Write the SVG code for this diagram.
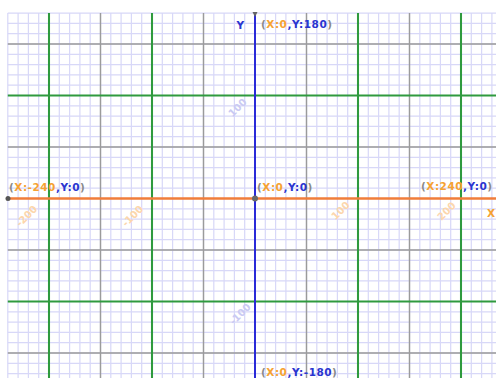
<svg xmlns="http://www.w3.org/2000/svg" width="496" height="378" viewBox="0 0 496 378">
<style>
.minor{stroke:#d8d8f8;stroke-width:1.2;fill:none}
.grey{stroke:#9b9b9b;stroke-width:1.4;fill:none}
.green{stroke:#2f9a3e;stroke-width:2;fill:none}
.lbl{font-family:"DejaVu Sans",Verdana,sans-serif;font-weight:bold;font-size:10.5px;letter-spacing:0.5px}
.p{fill:#8a8a8a}.o{fill:#f6a233}.b{fill:#2a35d0}
.rot{font-family:"DejaVu Sans",Verdana,sans-serif;font-weight:bold;font-size:10px;text-anchor:middle}
.ry{fill:#cacaf3}.rx{fill:#fcd6ac}
</style>
<rect x="0" y="0" width="496" height="378" fill="#ffffff"/>
<g id="grid" transform="translate(255 198.5) scale(1.03 -1.03)">
<path class="minor" d="M-240 -180V180M-230 -180V180M-220 -180V180M-210 -180V180M-200 -180V180M-190 -180V180M-180 -180V180M-170 -180V180M-160 -180V180M-150 -180V180M-140 -180V180M-130 -180V180M-120 -180V180M-110 -180V180M-100 -180V180M-90 -180V180M-80 -180V180M-70 -180V180M-60 -180V180M-50 -180V180M-40 -180V180M-30 -180V180M-20 -180V180M-10 -180V180M10 -180V180M20 -180V180M30 -180V180M40 -180V180M50 -180V180M60 -180V180M70 -180V180M80 -180V180M90 -180V180M100 -180V180M110 -180V180M120 -180V180M130 -180V180M140 -180V180M150 -180V180M160 -180V180M170 -180V180M180 -180V180M190 -180V180M200 -180V180M210 -180V180M220 -180V180M230 -180V180M240 -180V180"/>
<path class="minor" d="M-240 180H240M-240 170H240M-240 160H240M-240 150H240M-240 140H240M-240 130H240M-240 120H240M-240 110H240M-240 100H240M-240 90H240M-240 80H240M-240 70H240M-240 60H240M-240 50H240M-240 40H240M-240 30H240M-240 20H240M-240 10H240M-240 -10H240M-240 -20H240M-240 -30H240M-240 -40H240M-240 -50H240M-240 -60H240M-240 -70H240M-240 -80H240M-240 -90H240M-240 -100H240M-240 -110H240M-240 -120H240M-240 -130H240M-240 -140H240M-240 -150H240M-240 -160H240M-240 -170H240M-240 -180H240"/>
<path class="grey" d="M-150 -180V180M-50 -180V180M50 -180V180M150 -180V180M-240 150H240M-240 50H240M-240 -50H240M-240 -150H240"/>
<path class="green" d="M-200 -180V180M-100 -180V180M100 -180V180M200 -180V180M-240 100H240M-240 -100H240"/>
</g>
<g id="rotated-labels">
<text class="rot ry" transform="translate(240 110) rotate(-45)">100</text>
<text class="rot ry" transform="translate(242.5 316.5) rotate(-45)">-100</text>
<text class="rot rx" transform="translate(29 218.5) rotate(-45)">-200</text>
<text class="rot rx" transform="translate(135 218.5) rotate(-45)">-100</text>
<text class="rot rx" transform="translate(343 213) rotate(-45)">100</text>
<text class="rot rx" transform="translate(449 213.5) rotate(-45)">200</text>
</g>
<g id="connectors">
<line id="x-axis" x1="8" y1="198.5" x2="496" y2="198.5" stroke="#f07d3a" stroke-width="2.5"/>
<line id="y-axis" x1="255" y1="13" x2="255" y2="378" stroke="#2a2ad8" stroke-width="2"/>
<polygon points="252.5,12 257.5,12 255,17" fill="#666666"/>
</g>
<g id="origin">
<circle cx="255" cy="198.5" r="3" fill="#6a6a6a"/>
<text class="lbl" x="257" y="190.5"><tspan class="p">(</tspan><tspan class="o">X:0</tspan><tspan class="b">,Y:0</tspan><tspan class="p">)</tspan></text>
</g>
<g id="left-end">
<circle cx="8" cy="198.5" r="2.5" fill="#555555"/>
<text class="lbl" x="9" y="191"><tspan class="p">(</tspan><tspan class="o">X:-240</tspan><tspan class="b">,Y:0</tspan><tspan class="p">)</tspan></text>
</g>
<g id="right-end">
<text class="lbl" x="421" y="190"><tspan class="p">(</tspan><tspan class="o">X:240</tspan><tspan class="b">,Y:0</tspan><tspan class="p">)</tspan></text>
<text class="lbl o" x="487" y="217" font-size="12">X</text>
</g>
<g id="top-end">
<text class="lbl b" x="236.5" y="29" font-size="12">Y</text>
<text class="lbl" x="261" y="28"><tspan class="p">(</tspan><tspan class="o">X:0</tspan><tspan class="b">,Y:180</tspan><tspan class="p">)</tspan></text>
</g>
<g id="bottom-end">
<text class="lbl" x="261" y="375.5"><tspan class="p">(</tspan><tspan class="o">X:0</tspan><tspan class="b">,Y:-180</tspan><tspan class="p">)</tspan></text>
</g>
</svg>
